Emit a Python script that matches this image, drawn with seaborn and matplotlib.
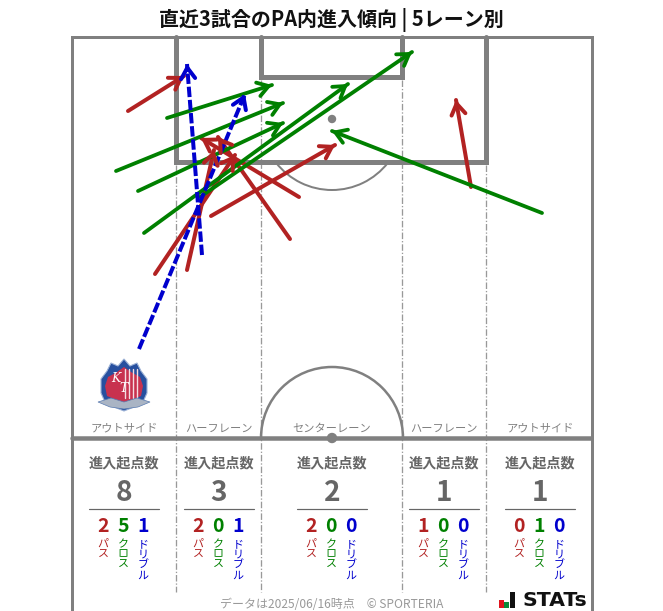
#!/usr/bin/env python3

import numpy as np
import pandas as pd
import matplotlib
matplotlib.use("Agg")
import matplotlib.pyplot as plt
import matplotlib.patches as mpatches
import seaborn as sns

# arrows: start x, start y, end x, end y (pixels)
pass_arrows = [
    [128, 111, 184, 76], [299, 197, 201, 138], [290, 239, 218, 137],
    [211, 216, 335, 145], [155, 274, 235, 155], [187, 270, 214, 150],
    [471, 187, 456, 100],
]
cross_arrows = [
    [167, 118, 272, 85], [116, 171, 283, 103], [138, 191, 283, 123],
    [144, 233, 348, 84], [200, 197, 412, 52], [542, 213, 332, 131],
]
dribble_arrows = [[202, 255, 187, 64], [139, 349, 245, 94]]

lane_names = ["アウトサイド", "ハーフレーン", "センターレーン", "ハーフレーン", "アウトサイド"]
entry_totals = [8, 3, 2, 1, 1]
pass_counts = [2, 2, 2, 1, 0]
cross_counts = [5, 0, 0, 0, 1]
dribble_counts = [1, 1, 0, 0, 0]
kind_names = ["パス", "クロス", "ドリブル"]

lane_centers = [124, 219, 332, 444, 540]
lane_edges = [176, 260.5, 402, 486]
RED, GREEN, BLUE = "#B22222", "#008000", "#0000CD"
PITCH = "#808080"
TXT = "#666666"


def px(size):
    return size * 0.72


def pitch(ax):
    for xs, ys, w in [([71.5, 71.5, 591.5, 591.5], [611, 36.5, 36.5, 611], 3),
                      ([176, 176, 486, 486], [37, 161.5, 161.5, 37], 5),
                      ([260.5, 260.5, 402, 402], [37, 77, 77, 37], 5),
                      ([72, 591], [438, 438], 4.5)]:
        ax.plot(xs, ys, color=PITCH, lw=px(w), solid_joinstyle="miter", zorder=2)
    for x, y0 in zip(lane_edges, [165, 80, 80, 165]):
        ax.plot([x, x], [y0, 592], color="#999999", lw=px(1.3), ls=(0, (5, 1.5, 1, 1.5)), zorder=1)
    # D of the box and centre circle
    ax.add_patch(mpatches.Arc((332, 119), 142, 142, theta1=38, theta2=142, color=PITCH, lw=px(2)))
    ax.add_patch(mpatches.Arc((332, 438), 142, 142, theta1=180, theta2=360, color=PITCH, lw=px(2.5)))
    ax.add_patch(mpatches.Circle((332, 119), 3.5, color=PITCH))
    ax.add_patch(mpatches.Circle((332, 438), 4.5, color=PITCH, zorder=3))


def arrows(ax):
    groups = [("pass", pass_arrows, RED, 4, ""), ("cross", cross_arrows, GREEN, 3.8, ""),
              ("dribble", dribble_arrows, BLUE, 4, (2.6, 0.7))]
    for kind, rows, col, w, dash in groups:
        frames = []
        for i, r in enumerate(rows):
            frames.append(pd.DataFrame({"x": [r[0], r[2]], "y": [r[1], r[3]],
                                        "kind": kind, "id": i}))
        df = pd.concat(frames, ignore_index=True)
        sns.lineplot(data=df, x="x", y="y", hue="kind", style="kind", units="id",
                     estimator=None, sort=False, palette={kind: col}, legend=False, ax=ax,
                     dashes={kind: dash}, linewidth=px(w), zorder=5)
        for r in rows:
            d = np.array([r[2] - r[0], r[3] - r[1]], dtype=float)
            d = d / np.hypot(*d) * 6
            ax.annotate("", xy=(r[2], r[3]), xytext=(r[2] - d[0], r[3] - d[1]),
                        arrowprops=dict(arrowstyle="->,head_length=0.56,head_width=0.36",
                                        color=col, lw=px(w), shrinkA=0, shrinkB=0,
                                        mutation_scale=14), zorder=6)


def crest(ax):
    outline = [(124, 359), (130, 366), (137, 363), (141, 371), (147, 379), (147, 393),
               (143, 402), (134, 407), (124, 411), (114, 407), (105, 402), (101, 393),
               (101, 379), (107, 371), (111, 363), (118, 366)]
    ax.add_patch(mpatches.Polygon(outline, fc="#27509F", ec="#9DB2D6", lw=0.8, zorder=3))
    inner = [(124, 367), (131, 372), (140, 377), (143, 386), (141, 396), (124, 403),
             (107, 396), (105, 386), (108, 377), (117, 372)]
    ax.add_patch(mpatches.Polygon(inner, fc="#C8324F", ec="none", zorder=3))
    for x in [125, 129, 133, 137]:
        ax.plot([x, x], [369, 398], color="#F4DCE2", lw=1.0, zorder=4)
    ax.add_patch(mpatches.Polygon([(98, 402), (111, 398), (124, 402), (137, 398), (150, 402),
                                   (138, 407), (124, 409), (110, 407)],
                                  fc="#A9B4C4", ec="#5A7BB0", lw=0.5, zorder=5))
    ax.text(116, 379, "K", color="white", fontsize=9, style="italic",
            family="DejaVu Serif", ha="center", va="center", zorder=6)
    ax.text(124, 388, "T", color="white", fontsize=9, style="italic",
            family="DejaVu Serif", ha="center", va="center", zorder=6)


def lanes(ax):
    for i, x in enumerate(lane_centers):
        ax.text(x, 429, lane_names[i], ha="center", va="center", fontsize=px(11.2), color="#808080")
        ax.text(x, 463, "進入起点数", ha="center", va="center", fontsize=px(14.1),
                fontweight="bold", color=TXT)
        ax.text(x, 493, str(entry_totals[i]), ha="center", va="center", fontsize=px(28),
                fontweight="bold", color=TXT)
        ax.plot([x - 35.5, x + 35], [508.5, 508.5], color=TXT, lw=px(1.2))
        counts = [pass_counts[i], cross_counts[i], dribble_counts[i]]
        for off, n, name, col in zip([-21, -1, 19], counts, kind_names, [RED, GREEN, BLUE]):
            ax.text(x + off, 527, str(n), ha="center", va="center", fontsize=px(19.5),
                    fontweight="bold", color=col)
            for j, ch in enumerate(name):
                ax.text(x + off, 544 + j * 10.5, ch, ha="center", va="center",
                        fontsize=px(11), color=col)


def footer(ax):
    ax.text(332, 605, "データは2025/06/16時点　© SPORTERIA", ha="center", va="center",
            fontsize=px(12), color="#999999")
    # STATs mark
    for x, h, c in [(499, 8, "#E0141E"), (504, 6, "#0A8A3A"), (510, 16, "#111111")]:
        ax.add_patch(mpatches.Rectangle((x, 608 - h), 5, h, fc=c, ec="none", zorder=4))
    ax.text(522, 601, "STATs", ha="left", va="center", fontsize=px(20.5), fontweight="bold",
            color="#111111", family="DejaVu Sans")


def main():
    sns.set_theme(style="white")
    plt.rcParams["font.family"] = ["Noto Sans CJK JP", "DejaVu Sans"]
    fig = plt.figure(figsize=(6.63, 6.11), dpi=100)
    ax = fig.add_axes([0, 0, 1, 1])
    pitch(ax)
    crest(ax)
    arrows(ax)
    lanes(ax)
    footer(ax)
    ax.text(331, 19.5, "直近3試合のPA内進入傾向 | 5レーン別", ha="center", va="center",
            fontsize=px(20), fontweight="bold", color="#111111")
    ax.set_xlim(0, 663)
    ax.set_ylim(611, 0)
    ax.axis("off")
    fig.savefig("out.png", dpi=100)
    plt.close(fig)


if __name__ == "__main__":
    main()
